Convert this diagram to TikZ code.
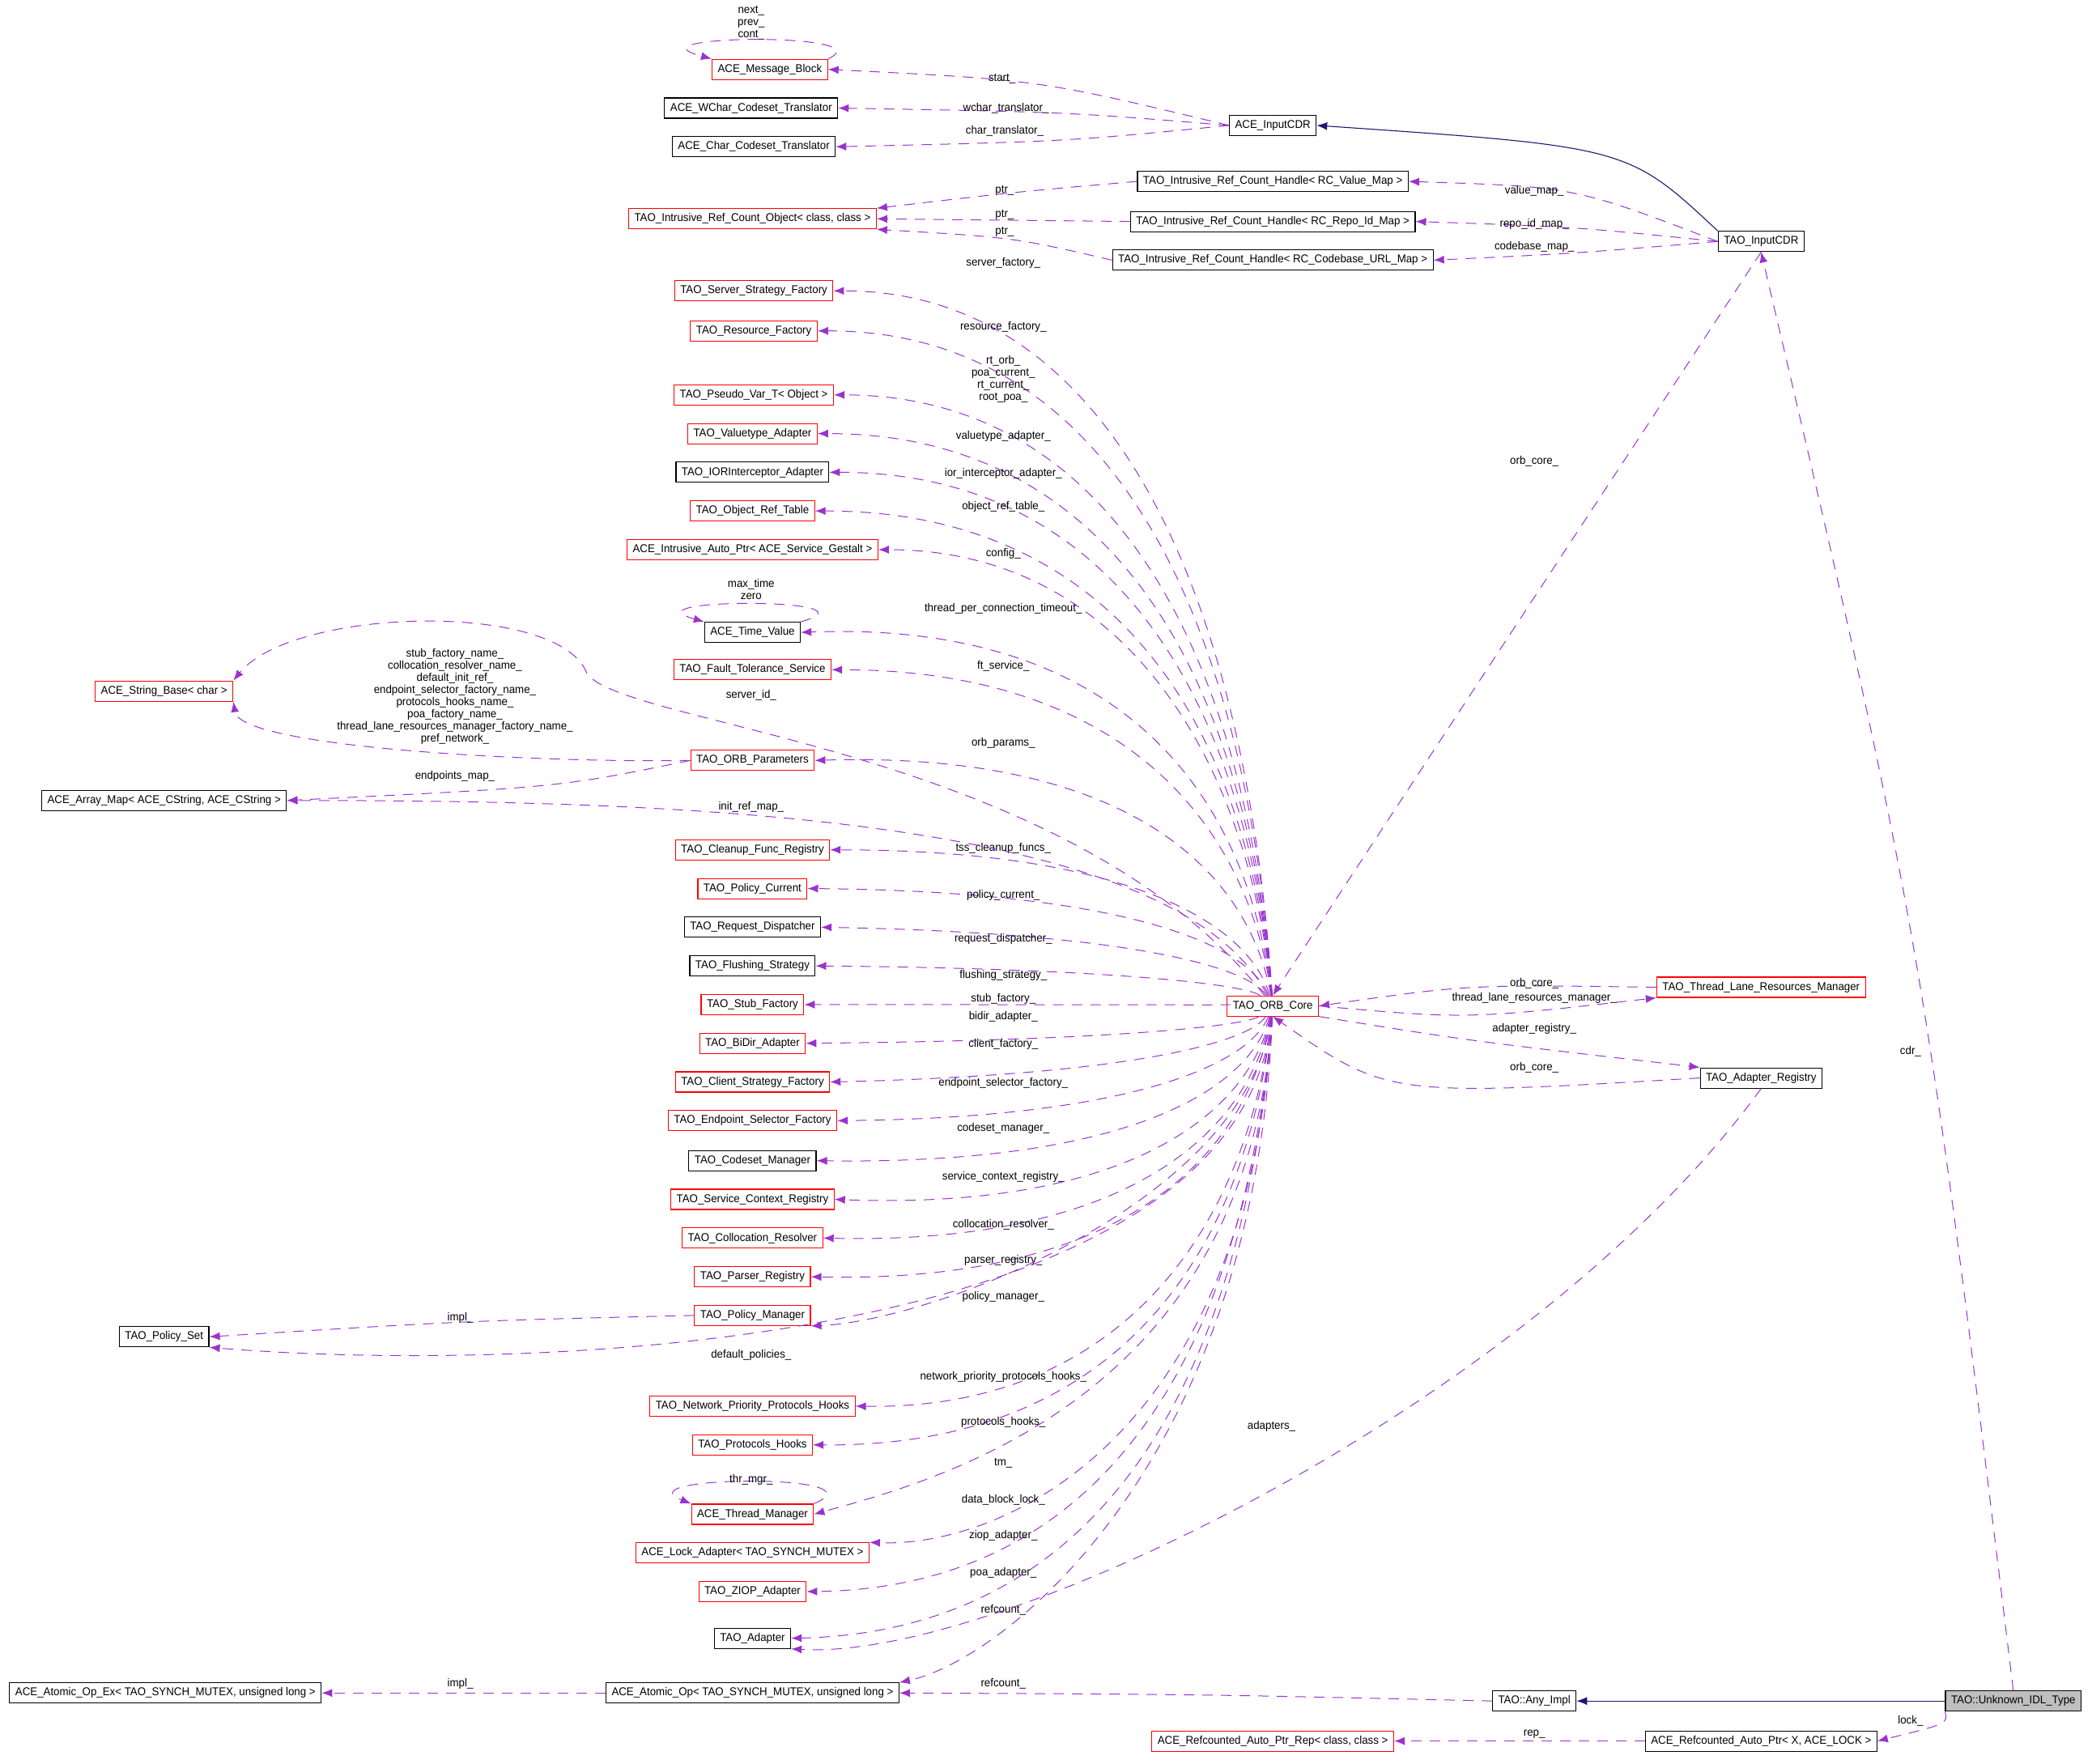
\documentclass[tikz,border=0pt]{standalone}
\usepackage{fontspec}
\setmainfont{Liberation Sans}[FakeStretch=0.95]
\begin{document}
\begin{tikzpicture}[x=1.648pt,y=-1.648pt,
  every node/.style={font=\fontsize{14}{15}\selectfont},
  box/.style={draw=black,line width=1.1pt,minimum height=25pt,inner xsep=7pt,inner ysep=2pt},
  rbox/.style={box,draw=red},
  gbox/.style={box,fill=black!25},
  lbl/.style={align=center,inner sep=0pt},
  dep/.style={draw={rgb,255:red,154;green,50;blue,205},line width=1pt,dash pattern=on 13pt off 10pt,-{Latex[length=13pt,width=10pt]}},
  inh/.style={draw={rgb,255:red,25;green,25;blue,112},line width=1.1pt,-{Latex[length=13pt,width=10pt]}}]
\usetikzlibrary{arrows.meta}
\useasboundingbox (0,0) rectangle (1568,1322);
% nodes
\node[rbox] (mb) at (577,52) {ACE\_Message\_Block};
\node[box] (wct) at (563,81) {ACE\_WChar\_Codeset\_Translator};
\node[box] (cct) at (565,110) {ACE\_Char\_Codeset\_Translator};
\node[box] (aicdr) at (954,94) {ACE\_InputCDR};
\node[box] (h1) at (954,136) {TAO\_Intrusive\_Ref\_Count\_Handle< RC\_Value\_Map >};
\node[box] (h2) at (954,166) {TAO\_Intrusive\_Ref\_Count\_Handle< RC\_Repo\_Id\_Map >};
\node[box] (h3) at (954,195) {TAO\_Intrusive\_Ref\_Count\_Handle< RC\_Codebase\_URL\_Map >};
\node[rbox] (obj) at (564,164) {TAO\_Intrusive\_Ref\_Count\_Object< class, class >};
\node[box] (icdr) at (1320,181) {TAO\_InputCDR};
\node[rbox] (ssf) at (565,218) {TAO\_Server\_Strategy\_Factory};
\node[rbox] (rf) at (565,248) {TAO\_Resource\_Factory};
\node[rbox] (pv) at (565,296) {TAO\_Pseudo\_Var\_T< Object >};
\node[rbox] (va) at (564,325) {TAO\_Valuetype\_Adapter};
\node[box] (ior) at (564,354) {TAO\_IORInterceptor\_Adapter};
\node[rbox] (ort) at (564,383) {TAO\_Object\_Ref\_Table};
\node[rbox] (iap) at (564,412) {ACE\_Intrusive\_Auto\_Ptr< ACE\_Service\_Gestalt >};
\node[box] (tv) at (564,474) {ACE\_Time\_Value};
\node[rbox] (fts) at (564,502) {TAO\_Fault\_Tolerance\_Service};
\node[rbox] (sb) at (123,518) {ACE\_String\_Base< char >};
\node[rbox] (op) at (564,570) {TAO\_ORB\_Parameters};
\node[box] (am) at (123,600) {ACE\_Array\_Map< ACE\_CString, ACE\_CString >};
\node[rbox] (cfr) at (564,637) {TAO\_Cleanup\_Func\_Registry};
\node[rbox] (pc) at (564,666) {TAO\_Policy\_Current};
\node[box] (rd) at (564,695) {TAO\_Request\_Dispatcher};
\node[box] (fs) at (564,724) {TAO\_Flushing\_Strategy};
\node[rbox] (sf) at (564,753) {TAO\_Stub\_Factory};
\node[rbox] (bd) at (564,782) {TAO\_BiDir\_Adapter};
\node[rbox] (csf) at (564,811) {TAO\_Client\_Strategy\_Factory};
\node[rbox] (esf) at (564,840) {TAO\_Endpoint\_Selector\_Factory};
\node[box] (cm) at (564,870) {TAO\_Codeset\_Manager};
\node[rbox] (scr) at (564,899) {TAO\_Service\_Context\_Registry};
\node[rbox] (cr) at (564,928) {TAO\_Collocation\_Resolver};
\node[rbox] (pr) at (564,957) {TAO\_Parser\_Registry};
\node[rbox] (pm) at (564,986) {TAO\_Policy\_Manager};
\node[box] (ps) at (123,1002) {TAO\_Policy\_Set};
\node[rbox] (npph) at (564,1054) {TAO\_Network\_Priority\_Protocols\_Hooks};
\node[rbox] (ph) at (564,1083) {TAO\_Protocols\_Hooks};
\node[rbox] (tm) at (564,1135) {ACE\_Thread\_Manager};
\node[rbox] (la) at (564,1164) {ACE\_Lock\_Adapter< TAO\_SYNCH\_MUTEX >};
\node[rbox] (za) at (564,1193) {TAO\_ZIOP\_Adapter};
\node[box] (ta) at (564,1228) {TAO\_Adapter};
\node[box] (aox) at (124,1269) {ACE\_Atomic\_Op\_Ex< TAO\_SYNCH\_MUTEX, unsigned long >};
\node[box] (ao) at (564,1269) {ACE\_Atomic\_Op< TAO\_SYNCH\_MUTEX, unsigned long >};
\node[rbox] (core) at (954,754) {TAO\_ORB\_Core};
\node[rbox] (tlrm) at (1320,740) {TAO\_Thread\_Lane\_Resources\_Manager};
\node[box] (areg) at (1320,808) {TAO\_Adapter\_Registry};
\node[box] (any) at (1150,1275) {TAO::Any\_Impl};
\node[gbox] (unk) at (1509,1275) {TAO::Unknown\_IDL\_Type};
\node[rbox] (rep) at (954,1305) {ACE\_Refcounted\_Auto\_Ptr\_Rep< class, class >};
\node[box] (rap) at (1320,1305) {ACE\_Refcounted\_Auto\_Ptr< X, ACE\_LOCK >};
% ORB core fan edges
\newcommand\oedge[5]{%
  \pgfmathsetmacro\cya{#2+0.45*(754-#2)}%
  \draw[dep] (core) .. controls (935,\cya) and (840,#2) .. (#1.east);
  \node[lbl] (#5) at (752,#4) {#3};}
\oedge{ssf}{218}{server\_factory\_}{197}{l1}
\oedge{rf}{248}{resource\_factory\_}{245}{l2}
\oedge{pv}{296}{rt\_orb\_\\poa\_current\_\\rt\_current\_\\root\_poa\_}{284}{l3}
\oedge{va}{325}{valuetype\_adapter\_}{327}{l4}
\oedge{ior}{354}{ior\_interceptor\_adapter\_}{355}{l5}
\oedge{ort}{383}{object\_ref\_table\_}{380}{l6}
\oedge{iap}{412}{config\_}{415}{l7}
\oedge{tv}{465}{thread\_per\_connection\_timeout\_}{456}{l8}
\oedge{fts}{502}{ft\_service\_}{499}{l9}
\oedge{op}{563}{orb\_params\_}{557}{l10}
\oedge{cfr}{637}{tss\_cleanup\_funcs\_}{636}{l11}
\oedge{pc}{668}{policy\_current\_}{671}{l12}
\oedge{rd}{699}{request\_dispatcher\_}{704}{l13}
\oedge{fs}{726}{flushing\_strategy\_}{731}{l14}
\oedge{sf}{753}{stub\_factory\_}{749}{l15}
\oedge{bd}{780}{bidir\_adapter\_}{762}{l16}
\oedge{csf}{806}{client\_factory\_}{783}{l17}
\oedge{esf}{838}{endpoint\_selector\_factory\_}{812}{l18}
\oedge{cm}{873}{codeset\_manager\_}{846}{l19}
\oedge{scr}{907}{service\_context\_registry\_}{882}{l20}
\oedge{cr}{933}{collocation\_resolver\_}{918}{l21}
\oedge{pr}{962}{parser\_registry\_}{945}{l22}
\oedge{npph}{1057}{network\_priority\_protocols\_hooks\_}{1032}{l23}
\oedge{ph}{1085}{protocols\_hooks\_}{1066}{l24}
\oedge{za}{1190}{ziop\_adapter\_}{1151}{l25}
\oedge{ta}{1222}{poa\_adapter\_}{1179}{l26}
\draw[dep] (core) .. controls (935,900) and (700,990) .. (pm.south east);
\node[lbl] (l27) at (752,972) {policy\_manager\_};
\draw[dep] (core) .. controls (935,1050) and (700,1110) .. (tm.east);
\node[lbl] (l28) at (752,1097) {tm\_};
\draw[dep] (core) .. controls (935,1080) and (750,1160) .. (la.north east);
\node[lbl] (l29) at (752,1124) {data\_block\_lock\_};
\draw[dep] (core) .. controls (940,1100) and (750,1245) .. (ao.north east);
\node[lbl] (l30) at (752,1207) {refcount\_};
% string base etc
\draw[dep] (core) .. controls (800,560) and (470,545) .. (440,505) .. controls (420,450) and (220,455) .. (sb.north east);
\node[lbl] (l31) at (563,521) {server\_id\_};
\draw[dep] (op.west) .. controls (400,572) and (180,560) .. (sb.south east);
\node[lbl] (l32) at (341,522) {stub\_factory\_name\_\\collocation\_resolver\_name\_\\default\_init\_ref\_\\endpoint\_selector\_factory\_name\_\\protocols\_hooks\_name\_\\poa\_factory\_name\_\\thread\_lane\_resources\_manager\_factory\_name\_\\pref\_network\_};
\draw[dep] (op.west) .. controls (420,590) .. (am.east);
\node[lbl] (l33) at (341,582) {endpoints\_map\_};
\draw[dep] (core) .. controls (880,610) and (500,600) .. (am.east);
\node[lbl] (l34) at (563,605) {init\_ref\_map\_};
\draw[dep] (pm.west) .. controls (350,990) .. (ps.east);
\node[lbl] (l35) at (345,988) {impl\_};
\draw[dep] (core) .. controls (930,1010) and (400,1030) .. (ps.south east);
\node[lbl] (l36) at (563,1016) {default\_policies\_};
% loops
\draw[dep] (mb.north east) .. controls (665,24) and (465,26) .. (mb.north west);
\node[lbl] (l37) at (563,17) {next\_\\prev\_\\cont\_};
\draw[dep] (tv.north east) .. controls (665,448) and (465,448) .. (tv.north west);
\node[lbl] (l38) at (563,442) {max\_time\\zero};
\draw[dep] (tm.north east) .. controls (665,1104) and (465,1106) .. (tm.north west);
\node[lbl] (l39) at (563,1109) {thr\_mgr\_};
% top area
\draw[dep] (aicdr.west) .. controls (780,60) .. (mb.east);
\node[lbl] (l40) at (751,59) {start\_};
\draw[dep] (aicdr.west) .. controls (800,84) .. (wct.east);
\node[lbl] (l41) at (754,81) {wchar\_translator\_};
\draw[dep] (aicdr.west) .. controls (800,106) .. (cct.east);
\node[lbl] (l42) at (753,98) {char\_translator\_};
\draw[dep] (h1.west) .. controls (760,144) .. (obj.north east);
\node[lbl] (l43) at (753,143) {ptr\_};
\draw[dep] (h2.west) -- (obj.east);
\node[lbl] (l44) at (753,161) {ptr\_};
\draw[dep] (h3.west) .. controls (760,178) .. (obj.south east);
\node[lbl] (l45) at (753,174) {ptr\_};
\draw[dep] (icdr.west) .. controls (1180,140) .. (h1.east);
\node[lbl] (l46) at (1150,143) {value\_map\_};
\draw[dep] (icdr.west) .. controls (1180,170) .. (h2.east);
\node[lbl] (l47) at (1150,168) {repo\_id\_map\_};
\draw[dep] (icdr.west) .. controls (1180,190) .. (h3.east);
\node[lbl] (l48) at (1150,185) {codebase\_map\_};
\draw[inh] (icdr.north west) .. controls (1220,110) .. (aicdr.east);
\draw[dep] (icdr.south) -- (core.north);
\node[lbl] (l49) at (1150,346) {orb\_core\_};
\draw[dep] (unk.north) .. controls (1440,700) .. (icdr.south);
\node[lbl] (l50) at (1432,788) {cdr\_};
% right middle
\draw[dep] (tlrm.west) .. controls (1100,738) .. (core.east);
\node[lbl] (l51) at (1150,737) {orb\_core\_};
\draw[dep] (core.east) .. controls (1100,764) .. (tlrm.south west);
\node[lbl] (l52) at (1150,748) {thread\_lane\_resources\_manager\_};
\draw[dep] (core.south east) .. controls (1100,780) .. (areg.north west);
\node[lbl] (l53) at (1150,771) {adapter\_registry\_};
\draw[dep] (areg.west) .. controls (1040,822) .. (core.south);
\node[lbl] (l54) at (1150,800) {orb\_core\_};
\draw[dep] (areg.south) .. controls (1150,1050) and (750,1245) .. (ta.south east);
\node[lbl] (l55) at (953,1069) {adapters\_};
% bottom
\draw[dep] (ao.west) -- (aox.east);
\node[lbl] (l56) at (345,1262) {impl\_};
\draw[dep] (any.west) .. controls (900,1270) .. (ao.east);
\node[lbl] (l57) at (752,1262) {refcount\_};
\draw[inh] (unk.west) -- (any.east);
\draw[dep] (rap.west) -- (rep.east);
\node[lbl] (l58) at (1150,1300) {rep\_};
\draw[dep] (unk.south west) .. controls (1460,1292) .. (rap.east);
\node[lbl] (l59) at (1432,1290) {lock\_};
\end{tikzpicture}
\end{document}
